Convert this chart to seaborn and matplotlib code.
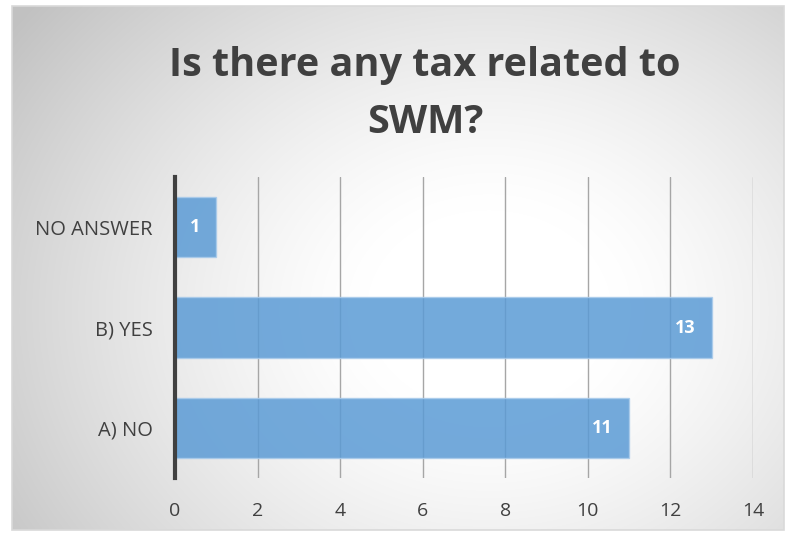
import numpy as np
import pandas as pd
import matplotlib
matplotlib.use("Agg")
import matplotlib.pyplot as plt
from matplotlib.patches import Rectangle
import seaborn as sns

categories = ["NO ANSWER", "B) YES", "A) NO"]
values = [1, 13, 11]
x_ticks = [0, 2, 4, 6, 8, 10, 12, 14]
title = "Is there any tax related to\nSWM?"

sns.set_theme(style="white")
plt.rcParams['font.family'] = ['Open Sans', 'DejaVu Sans']

W, H = 788, 535
fig = plt.figure(figsize=(W / 100, H / 100), dpi=100)

# radial gradient background
bg = fig.add_axes([0, 0, 1, 1], zorder=-10)
yy, xx = np.mgrid[0:H, 0:W]
cx, cy = 0.62 * W, 0.58 * H
d = np.sqrt(((xx - cx) / (0.62 * W)) ** 2 + ((yy - cy) / (0.75 * H)) ** 2)
d = np.clip(d, 0, 1.2)
val = 1.0 - 0.24 * np.clip((d - 0.25) / 0.95, 0, 1) ** 1.3
img = np.dstack([val, val, val])
img[:6, :] = 1.0
img[:, :12] = 1.0
img[530:, :] = 1.0
img[:, 784:] = 1.0
bg.imshow(img, extent=[0, W, H, 0], aspect='auto', interpolation='bilinear')
bg.add_patch(Rectangle((12, 6), 772, 524, fill=False, edgecolor='#d9d9d9', lw=1.2))
bg.set_xlim(0, W)
bg.set_ylim(H, 0)
bg.axis('off')

ax = fig.add_axes([175 / W, 1 - 478 / H, (753 - 175) / W, (478 - 177) / H])
ax.set_facecolor('none')

df = pd.DataFrame({"cat": categories, "val": values})
sns.barplot(data=df, x="val", y="cat", orient="h", ax=ax, color="#5B9BD5",
            saturation=1, width=0.6, alpha=0.85, edgecolor="#a9cbeb",
            linewidth=1.0, zorder=3)

ax.set_xlim(0, 14)
ax.set_ylim(2.5, -0.5)
ax.set_xticks(x_ticks)
ax.set_xticklabels([str(t) for t in x_ticks], fontsize=14, color='#404040')
ax.tick_params(axis='y', labelsize=14.5, labelcolor='#404040', length=0, pad=16)
ax.tick_params(axis='x', length=0, pad=17)
ax.set_xlabel("")
ax.set_ylabel("")
ax.grid(axis='x', color='#a6a6a6', lw=1.0, zorder=1)
ax.set_axisbelow(True)
for s in ['top', 'right', 'bottom']:
    ax.spines[s].set_visible(False)
ax.spines['left'].set_color('#404040')
ax.spines['left'].set_linewidth(3)
ax.spines['left'].set_zorder(5)

for patch, v in zip(ax.patches, values):
    yc = patch.get_y() + patch.get_height() / 2
    ax.annotate(str(v), xy=(patch.get_x() + patch.get_width(), yc),
                xytext=(-11.5, 0), textcoords='offset points',
                ha='right', va='center', color='white', fontsize=13,
                fontweight='bold', zorder=6)

fig.text(425 / W, 1 - 94 / H, title, ha='center', va='center', fontsize=28.5,
         fontweight='bold', color='#404040', linespacing=1.6)

fig.savefig("out.png", dpi=100)
